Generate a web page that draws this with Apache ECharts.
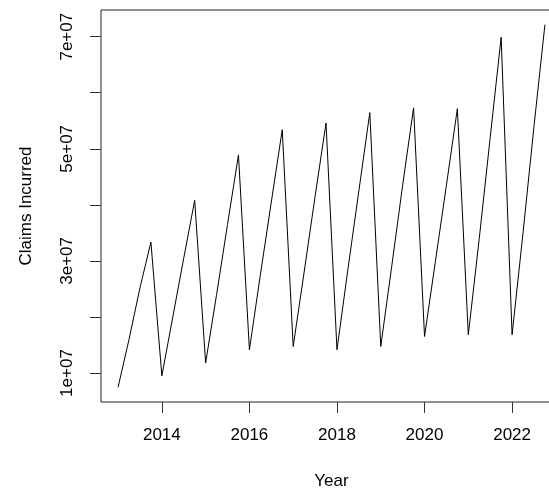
<!DOCTYPE html>
<html>
<head>
<meta charset="utf-8">
<script src="https://cdn.jsdelivr.net/npm/echarts@6/dist/echarts.min.js"></script>
<style>
html,body{margin:0;padding:0;background:#fff;}
#chart{width:549px;height:491px;}
</style>
</head>
<body>
<div id="chart"></div>
<script>
// Quarterly claims incurred, 2013 Q1 .. 2022 Q4
const years = [2013, 2014, 2015, 2016, 2017, 2018, 2019, 2020, 2021, 2022];
const quarterOffsets = [0, 0.25, 0.5, 0.75];
const claimsQ1 = [7450000, 9500000, 11800000, 14150000, 14740000, 14150000, 14740000, 16520000, 16830000, 16840000];
const claimsQ2 = [16000000, 20000000, 24000000, 27500000, 28000000, 28500000, 29000000, 30000000, 34000000, 35000000];
const claimsQ3 = [25200000, 30500000, 36500000, 40500000, 41500000, 42500000, 43500000, 43500000, 52000000, 54000000];
const claimsQ4 = [33350000, 40800000, 48900000, 53400000, 54600000, 56450000, 57300000, 57150000, 69900000, 72150000];
const yTickValues = [10000000, 20000000, 30000000, 40000000, 50000000, 60000000, 70000000];
const yLabelValues = [10000000, 30000000, 50000000, 70000000];
const xTickValues = [2014, 2016, 2018, 2020, 2022];

const quarterly = [claimsQ1, claimsQ2, claimsQ3, claimsQ4];
const seriesData = [];
years.forEach((y, i) => {
  quarterOffsets.forEach((q, j) => {
    seriesData.push([y + q, quarterly[j][i]]);
  });
});

const font = 'Liberation Sans, Arial, sans-serif';
const chart = echarts.init(document.getElementById('chart'), null, {renderer: 'canvas'});
chart.setOption({
  animation: false,
  backgroundColor: '#fff',
  grid: {
    left: 101, top: 10, width: 461, height: 392,
    outerBoundsMode: 'none',
    containLabel: false,
    show: true, borderColor: '#222', borderWidth: 1, backgroundColor: 'transparent'
  },
  xAxis: {
    type: 'value',
    min: 2012.61, max: 2023.14,
    name: 'Year', nameLocation: 'middle', nameGap: 71,
    nameTextStyle: {fontFamily: font, fontSize: 17, color: '#000'},
    axisLine: {show: false},
    splitLine: {show: false},
    axisTick: {show: true, length: 11, customValues: xTickValues, lineStyle: {color: '#333', width: 1}},
    axisLabel: {show: true, customValues: xTickValues, margin: 25, fontFamily: font, fontSize: 17, color: '#000',
      formatter: v => String(v)}
  },
  yAxis: {
    type: 'value',
    min: 4830000, max: 74760000,
    name: 'Claims Incurred', nameLocation: 'middle', nameGap: 66,
    nameTextStyle: {fontFamily: font, fontSize: 17, color: '#000'},
    axisLine: {show: false},
    splitLine: {show: false},
    axisTick: {show: true, length: 11, customValues: yTickValues, lineStyle: {color: '#333', width: 1}},
    axisLabel: {show: true, customValues: yLabelValues, rotate: 90, margin: 25, fontFamily: font, fontSize: 17, color: '#000',
      formatter: v => Math.round(v / 1e7) + 'e+07'}
  },
  series: [{
    type: 'line',
    data: seriesData,
    showSymbol: false,
    symbol: 'none',
    lineStyle: {color: '#000', width: 1},
    clip: true
  }]
});
</script>
</body>
</html>
